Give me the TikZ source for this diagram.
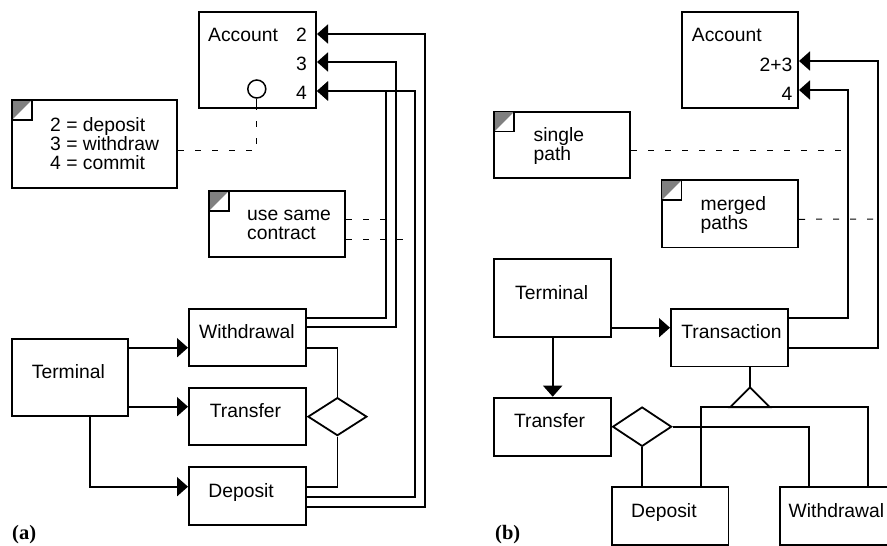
\documentclass[tikz,border=0pt]{standalone}
\usepackage{fontspec}
\setmainfont{Liberation Sans}
\newfontfamily\labelserif{Liberation Serif}
\usetikzlibrary{arrows.meta,calc,shapes.geometric}
\newcommand\diagfont{\fontsize{19.3}{19.3}\selectfont}
\newcommand\panelfont{\labelserif\bfseries\fontsize{20.5}{20.5}\selectfont}
\newcommand\padtext[3]{\hbox to #2{\hspace{#1}#3\hss}}
\definecolor{cornergray}{HTML}{808080}
\begin{document}
\begin{tikzpicture}[x=1pt,y=-1pt,
  conn/.style={line width=1.8pt},
  arr/.style={conn, -{Triangle[length=11pt,width=19pt]}},
  box/.style={draw, line width=1.8pt, anchor=north west, inner sep=0pt, text height=14pt, text depth=12pt, font=\diagfont},
  plainbox/.style={draw, line width=1.8pt, anchor=north west, inner sep=0pt},
  notetext/.style={anchor=base west, inner sep=0pt, font=\diagfont},
  plaintext/.style={inner sep=0pt, font=\diagfont},
  dashline/.style={line width=1pt, dash pattern=on 6pt off 11pt},
  choice/.style={draw, diamond, line width=1.8pt, inner sep=0pt, minimum width=59pt, minimum height=38pt, anchor=west},
  corner/.style={line width=1.5pt},
  panel/.style={anchor=base west, inner sep=0pt, font=\panelfont},
]
\useasboundingbox (0,0) rectangle (887,546);

%%%%%%%%%%%%%%%% (a) %%%%%%%%%%%%%%%%
\node[plainbox, minimum width=117.2pt, minimum height=96.2pt] (acca) at (198,11) {};
\node[plaintext, anchor=base west] (acctxta) at (208,41.7) {Account};
\node[plaintext, anchor=base east] (a2) at (307,41.7) {2};
\node[plaintext, anchor=base east] (a3) at (307,70.7) {3};
\node[plaintext, anchor=base east] (a4) at (307,99.3) {4};
\node[draw, circle, line width=1.5pt, minimum size=18pt, inner sep=0pt] (lolli) at (256.8,89) {};
\coordinate (lollibase) at (lolli.south |- acca.south);
\draw[line width=1pt] (lolli.south) -- (lollibase);

\node[plainbox, minimum width=165.2pt, minimum height=88.2pt] (note1) at (11,99) {};
\node[notetext] (note1txt) at (50,131) {\vtop{\hbox{2 = deposit}\hbox{3 = withdraw}\hbox{4 = commit}}};
\node[plainbox, minimum width=136.2pt, minimum height=66.2pt] (note2) at (208,190) {};
\node[notetext] (note2txt) at (247,220) {\vtop{\hbox{use same}\hbox{contract}}};

\node[box, minimum height=77.2pt] (terma) at (11,337.7) {\padtext{20pt}{116.2pt}{Terminal}};
\node[box, minimum height=57.5pt] (wdra) at (188,307.7) {\padtext{10.3pt}{117.2pt}{Withdrawal}};
\node[box, minimum height=56.9pt] (trfa) at (188,387.3) {\padtext{21pt}{117.2pt}{Transfer}};
\node[box, minimum height=58.2pt] (depa) at (188,466) {\padtext{19.5pt}{117.2pt}{Deposit}};
\node[choice] (dia) at (trfa.east) {};

% connectors (a)
\draw[arr] ($(terma.north east)+(0,10)$) -- ($(wdra.north west)+(0,40)$);
\draw[arr] ($(terma.north east)+(0,69)$) -- ($(trfa.north west)+(0,19.4)$);
\draw[arr] ($(terma.south west)+(79,0)$) |- ($(depa.north west)+(0,20.7)$);
\draw[conn] ($(wdra.north east)+(0,40)$) -| (dia.north);
\draw[conn] ($(depa.north east)+(0,20.7)$) -| (dia.south);
\draw[arr] ($(wdra.north east)+(0,10)$) -| (386,91) -- ($(acca.north east)+(0,80)$);
\draw[arr] ($(wdra.north east)+(0,19.6)$) -| (396,62) -- ($(acca.north east)+(0,51)$);
\draw[arr] ($(depa.north east)+(0,30.7)$) -| (415,91) -- ($(acca.north east)+(0,80)$);
\draw[arr] ($(depa.north east)+(0,40.7)$) -| (425,34) -- ($(acca.north east)+(0,23)$);

% note links (a)
\coordinate (n2a) at (386,219);
\coordinate (n2b) at (415,239);
\draw[dashline] ($(note1.north east)+(0,51)$) -| (lollibase);
\draw[dashline] ($(note2.north east)+(0,29)$) -- (n2a);
\draw[dashline] ($(note2.north east)+(0,49)$) -- (n2b);

\node[panel] (pa) at (12,539.5) {(a)};

%%%%%%%%%%%%%%%% (b) %%%%%%%%%%%%%%%%
\node[plainbox, minimum width=116.5pt, minimum height=96.2pt] (accb) at (680.7,11) {};
\node[plaintext, anchor=base west] (acctxtb) at (691.7,41.7) {Account};
\node[plaintext, anchor=base east] (b23) at (792.5,71) {2+3};
\node[plaintext, anchor=base east] (b4) at (792.5,100) {4};

\node[plainbox, minimum width=135.9pt, minimum height=66.5pt] (note3) at (493.3,110.7) {};
\node[notetext] (note3txt) at (533.4,141) {\vtop{\hbox{single}\hbox{path}}};
\node[plainbox, minimum width=136.5pt, minimum height=67.2pt] (note4) at (660.7,179.3) {};
\node[notetext] (note4txt) at (700.5,210) {\vtop{\hbox{merged}\hbox{paths}}};

\node[box, minimum height=77.6pt] (termb) at (493.3,258.3) {\padtext{21pt}{116.6pt}{Terminal}};
\node[box, minimum height=57.2pt] (trans) at (670,308.3) {\padtext{10.5pt}{117.2pt}{Transaction}};
\node[box, minimum height=58.2pt] (trfb) at (493.3,396.7) {\padtext{19.8pt}{116.6pt}{Transfer}};
\node[box, minimum height=58.2pt] (depb) at (611,486) {\padtext{19.3pt}{116.5pt}{Deposit}};
\node[box, minimum height=58.2pt] (wdrb) at (779,486) {\padtext{8.8pt}{140pt}{Withdrawal}};
\node[choice, minimum height=39.4pt] (dib) at (trfb.east) {};

% inheritance triangle
\coordinate (triapex) at (750,387.3);
\coordinate (tribase) at (750,407.3);
\draw[conn, line join=miter] (triapex) -- (770,407.3) -- (730,407.3) -- cycle;

% connectors (b)
\draw[arr] ($(termb.north east)+(0,69.4)$) -- ($(trans.north west)+(0,19.4)$);
\draw[arr] ($(termb.south west)+(59.4,0)$) -- ($(trfb.north west)+(59.4,0)$);
\draw[arr] ($(trans.north east)+(0,10)$) -| (848,90) -- ($(accb.north east)+(0,79)$);
\draw[arr] ($(trans.north east)+(0,39.4)$) -| (877.7,61) -- ($(accb.north east)+(0,50)$);
\draw[conn] (dib.east) -| ($(wdrb.north west)+(30,0)$);
\draw[conn] (dib.south) -- (dib.south |- depb.north);
\draw[conn] ($(trans.south west)+(80,0)$) -- (triapex);
\draw[conn] ($(depb.north west)+(89.7,0)$) |- (tribase) -| ($(wdrb.north west)+(88.7,0)$);

% note links (b)
\coordinate (n3) at (848,150);
\coordinate (n4) at (877.7,219);
\draw[dashline] ($(note3.north east)+(0,39.3)$) -- (n3);
\draw[dashline] ($(note4.north east)+(0,40)$) -- (n4);

\node[panel] (pb) at (495,539.5) {(b)};

% note corners
\foreach \n in {note1,note2,note3,note4}{
  \fill[cornergray] ($(\n.north west)+(0.9,0.9)$) -- ++(20,0) -- ++(-20,20) -- cycle;
  \draw[corner] ($(\n.north west)+(0.9,0.9)$) rectangle ++(20,20);
}
\end{tikzpicture}
\end{document}
